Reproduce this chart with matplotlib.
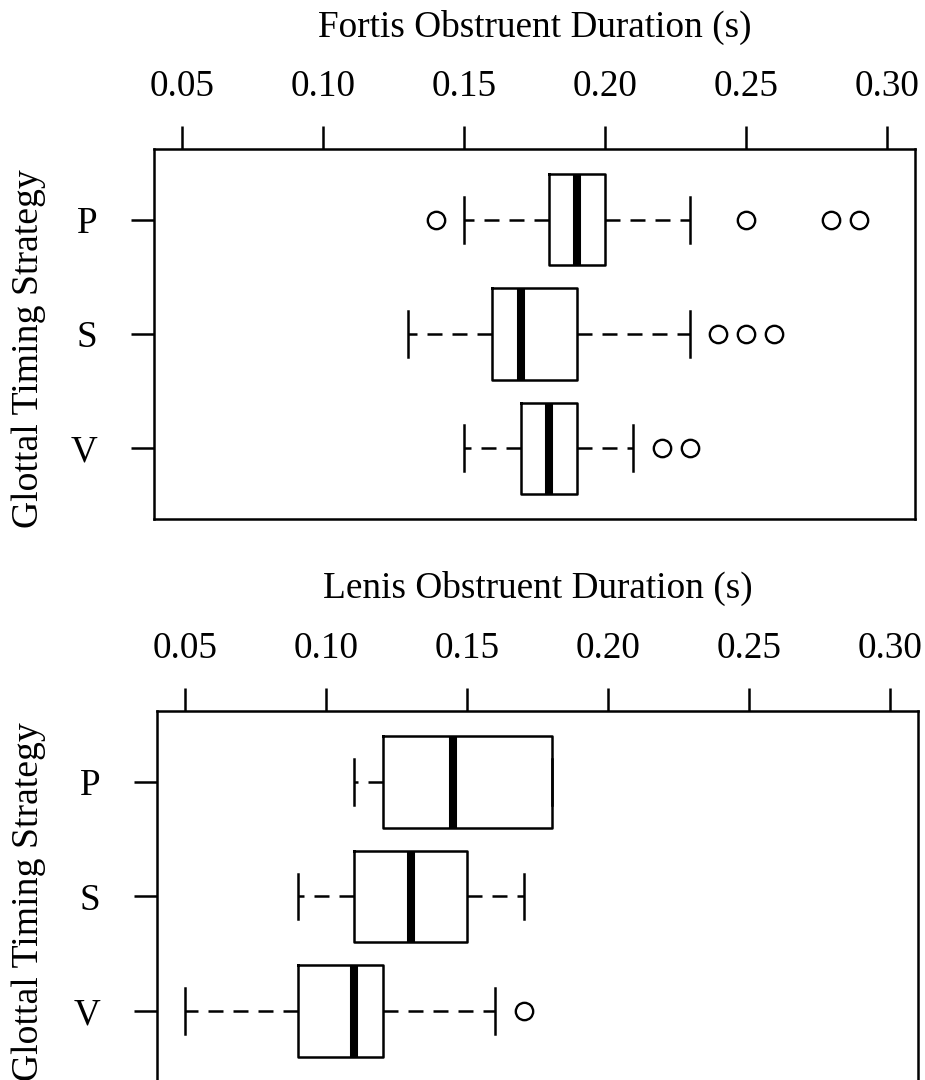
import matplotlib
matplotlib.use("Agg")
import matplotlib.pyplot as plt

# ---------------- data ----------------
categories = ["P", "S", "V"]
xticks = [0.05, 0.10, 0.15, 0.20, 0.25, 0.30]
xtick_labels = ["0.05", "0.10", "0.15", "0.20", "0.25", "0.30"]

fortis_whislo = [0.15, 0.13, 0.15]
fortis_q1 = [0.18, 0.16, 0.17]
fortis_med = [0.19, 0.17, 0.18]
fortis_q3 = [0.20, 0.19, 0.19]
fortis_whishi = [0.23, 0.23, 0.21]
fortis_fliers = [[0.14, 0.25, 0.28, 0.29], [0.24, 0.25, 0.26], [0.22, 0.23]]

lenis_whislo = [0.11, 0.09, 0.05]
lenis_q1 = [0.12, 0.11, 0.09]
lenis_med = [0.145, 0.13, 0.11]
lenis_q3 = [0.18, 0.15, 0.12]
lenis_whishi = [0.18, 0.17, 0.16]
lenis_fliers = [[], [], [0.17]]

titles = ["Fortis Obstruent Duration (s)", "Lenis Obstruent Duration (s)"]
ylabel = "Glottal Timing Strategy"

# ---------------- style ----------------
plt.rcParams["font.family"] = ["Liberation Serif", "DejaVu Serif"]
plt.rcParams["lines.scale_dashes"] = False
FS = 26.8
LW = 1.8

W, H = 925, 1080
fig = plt.figure(figsize=(W / 100, H / 100), dpi=100)


def px_axes(left, top, right, bottom):
    return fig.add_axes([left / W, 1 - bottom / H, (right - left) / W, (bottom - top) / H])


def make_stats(whislo, q1, med, q3, whishi, fliers):
    out = []
    for i in range(len(med)):
        out.append(dict(whislo=whislo[i], q1=q1[i], med=med[i], q3=q3[i],
                        whishi=whishi[i], fliers=fliers[i]))
    return out


panels = [
    (make_stats(fortis_whislo, fortis_q1, fortis_med, fortis_q3, fortis_whishi, fortis_fliers),
     (154, 149, 915, 519), 37, 349),
    (make_stats(lenis_whislo, lenis_q1, lenis_med, lenis_q3, lenis_whishi, lenis_fliers),
     (157, 711, 918, 1082), 598, 902),
]

for k, (stats, box, title_base, ylab_cy) in enumerate(panels):
    ax = px_axes(*box)
    ax.bxp(stats, positions=[1, 2, 3], widths=0.8, capwidths=0.4,
           orientation="horizontal", showfliers=True, patch_artist=False,
           boxprops=dict(color="black", linewidth=LW),
           whiskerprops=dict(color="black", linewidth=LW, linestyle=(0, (10.8, 7.2))),
           capprops=dict(color="black", linewidth=LW),
           medianprops=dict(color="black", linewidth=5.8, solid_capstyle="butt"),
           flierprops=dict(marker="o", markersize=12.5, markerfacecolor="none",
                           markeredgecolor="black", markeredgewidth=1.7, linestyle="none"))
    ax.set_xlim(0.0400, 0.3099)
    ax.set_ylim(3.62, 0.38)
    ax.set_xticks(xticks)
    ax.set_xticklabels(xtick_labels)
    ax.set_yticks([1, 2, 3])
    ax.set_yticklabels(categories)
    ax.xaxis.tick_top()
    ax.tick_params(axis="x", top=True, bottom=False, labeltop=True, labelbottom=False,
                   length=16.6, width=LW, pad=16, labelsize=FS, direction="out")
    ax.tick_params(axis="y", left=True, length=16.6, width=LW, pad=24,
                   labelsize=FS, direction="out")
    for s in ax.spines.values():
        s.set_linewidth(LW)
    cx = (box[0] + box[2]) / 2 / W
    fig.text(cx, 1 - title_base / H, titles[k], ha="center", va="baseline", fontsize=FS)
    fig.text(29 / W, 1 - ylab_cy / H, ylabel, rotation=90, ha="center", va="center",
             fontsize=27.2)

fig.savefig("out.png", dpi=100)
